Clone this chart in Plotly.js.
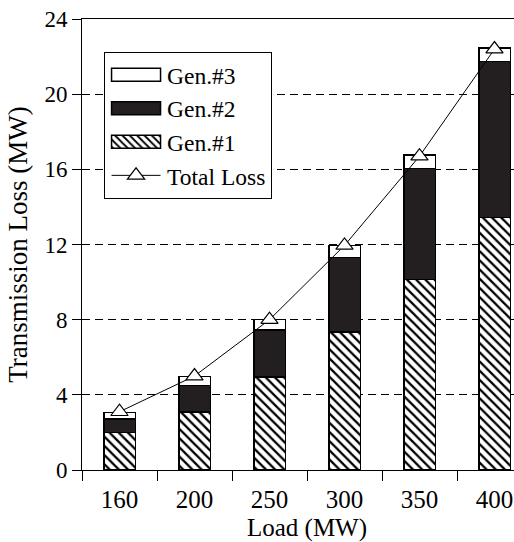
<!DOCTYPE html>
<html>
<head>
<meta charset="utf-8">
<script src="https://cdn.plot.ly/plotly-3.0.1.min.js"></script>
<style>
html,body{margin:0;padding:0;overflow:hidden;background:#fff;}
#chart{width:540px;height:542px;}
</style>
</head>
<body>
<div id="chart"></div>
<script>
var loads = ["160", "200", "250", "300", "350", "400"];
var gen1 = [2.0, 3.1, 4.95, 7.35, 10.15, 13.45];
var gen2 = [0.72, 1.4, 2.5, 3.95, 5.9, 8.3];
var gen3 = [0.35, 0.48, 0.57, 0.65, 0.7, 0.71];
var totalLoss = [3.1, 5.0, 8.0, 11.95, 16.7, 22.4];
var yTicks = [0, 4, 8, 12, 16, 20, 24];

var FONT = "Liberation Serif, Times New Roman, serif";
var barLine = {color: "#000", width: 1.5};

var traces = [
  {type: "bar", name: "Gen.#1", x: loads, y: gen1, legendrank: 3,
   marker: {color: "#fff", line: barLine,
            pattern: {shape: "\\", fgcolor: "#000", bgcolor: "#fff", size: 6.5, solidity: 0.35}}},
  {type: "bar", name: "Gen.#2", x: loads, y: gen2, legendrank: 2,
   marker: {color: "#231f20", line: barLine}},
  {type: "bar", name: "Gen.#3", x: loads, y: gen3, legendrank: 1,
   marker: {color: "#fff", line: barLine}},
  {type: "scatter", mode: "lines+markers", name: "Total Loss", x: loads, y: totalLoss, legendrank: 4,
   line: {color: "#000", width: 1},
   marker: {symbol: "triangle-up", size: 15, color: "#fff", line: {color: "#000", width: 1.2}}}
];

var layout = {
  width: 540, height: 542,
  margin: {l: 82, r: 8, t: 19, b: 72},
  paper_bgcolor: "#fff", plot_bgcolor: "#fff",
  font: {family: FONT, size: 22, color: "#000"},
  barmode: "stack",
  bargap: 0.58,
  showlegend: true,
  legend: {
    x: 0.049, y: 0.927, xanchor: "left", yanchor: "top",
    bgcolor: "#fff", bordercolor: "#000", borderwidth: 1,
    traceorder: "normal", itemwidth: 52, tracegroupgap: 0,
    font: {family: FONT, size: 23.5, color: "#000"}
  },
  xaxis: {
    type: "category",
    title: {text: "Load (MW)", font: {family: FONT, size: 25}, standoff: 7},
    showline: true, linecolor: "#000", linewidth: 1, mirror: true,
    ticks: "outside", ticklen: 10, tickcolor: "#000", tickson: "boundaries",
    ticklabelstandoff: 7,
    showgrid: false, zeroline: false,
    tickfont: {family: FONT, size: 25}
  },
  yaxis: {
    range: [0, 24], tickvals: yTicks, ticktext: yTicks.map(String),
    title: {text: "Transmission Loss (MW)", font: {family: FONT, size: 27}, standoff: 8},
    showline: true, linecolor: "#000", linewidth: 1,
    ticks: "outside", ticklen: 9, tickcolor: "#000",
    showgrid: true, gridcolor: "#000", gridwidth: 1, griddash: "8px,5px",
    zeroline: false,
    tickfont: {family: FONT, size: 23}
  }
};

Plotly.newPlot("chart", traces, layout, {staticPlot: true, displayModeBar: false}).then(function (gd) {
  // widen legend symbols to long rectangles / lines as in the reference
  var items = gd.querySelectorAll(".legend .traces");
  items.forEach(function (it) {
    var pts = it.querySelectorAll(".legendpoints path");
    pts.forEach(function (p) {
      var d = p.getAttribute("d") || "";
      if (/^M6,6H-6V-6H6Z$/.test(d.replace(/\s/g, ""))) {
        p.setAttribute("d", "M24.5,6.5H-24.5V-6.5H24.5Z");
      }
    });
    var lines = it.querySelectorAll(".legendlines path");
    lines.forEach(function (l) {
      var bb = l.getBBox();
      var cx = bb.x + bb.width / 2;
      l.setAttribute("d", "M" + (cx - 24.5) + ",0h49");
    });
  });
});
</script>
</body>
</html>
